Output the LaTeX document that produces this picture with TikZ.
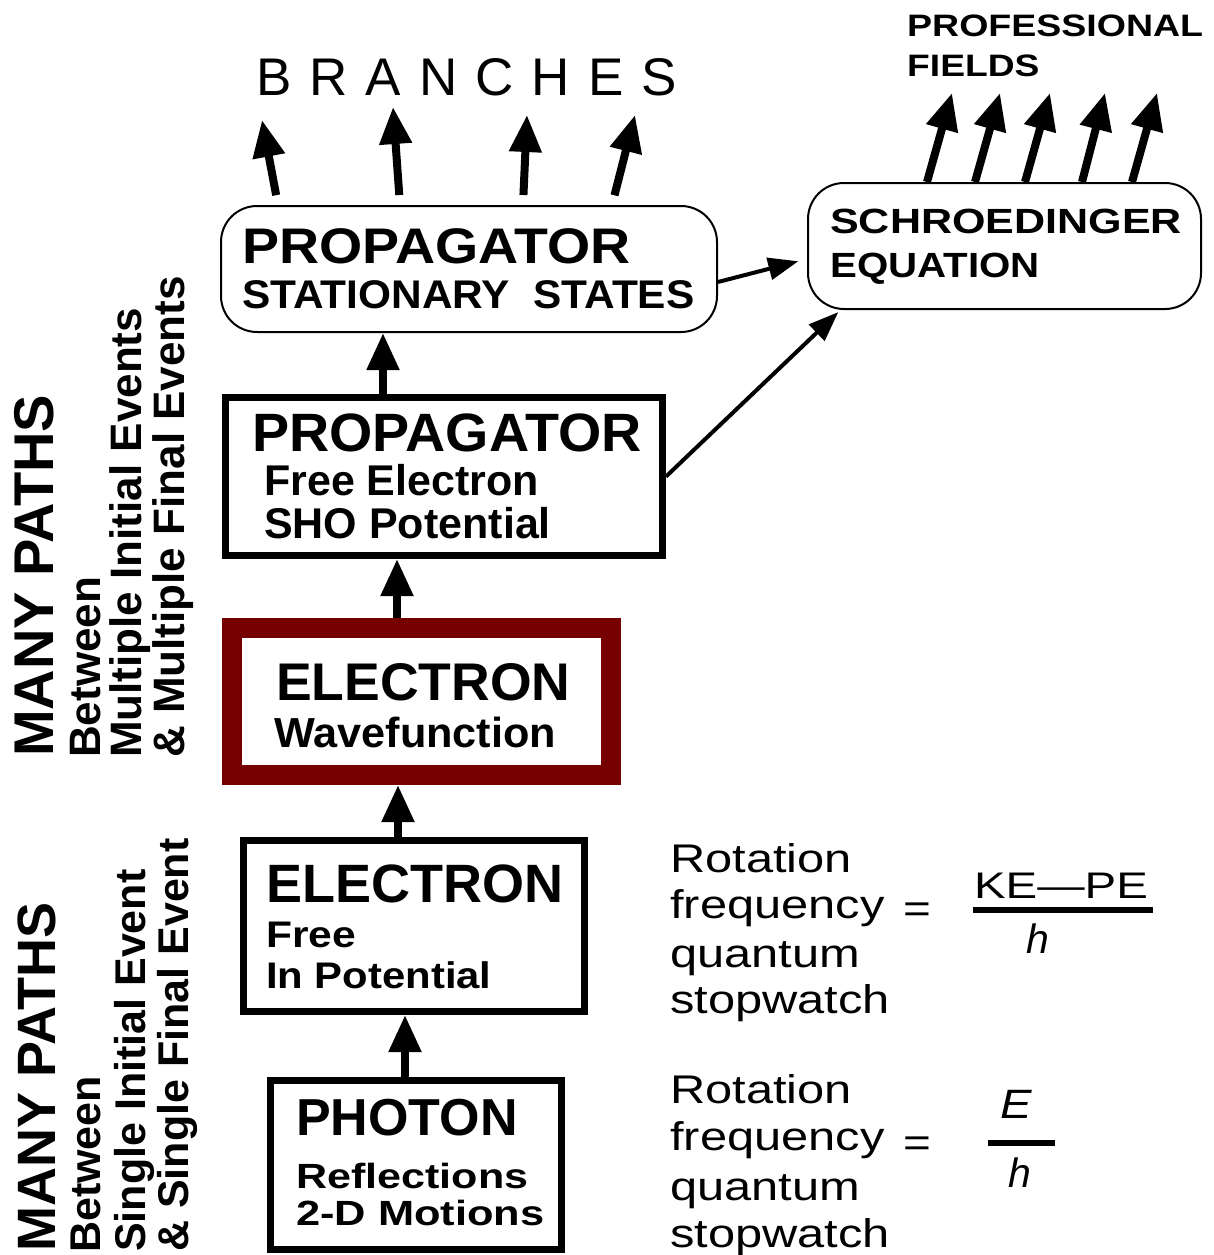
\documentclass[tikz,border=0pt]{standalone}
\usepackage{fontspec}
\usepackage{graphicx}
\setmainfont{Liberation Sans}
\newfontfamily\spacedfont[LetterSpace=34]{Liberation Sans}
\usepackage{tikz}
\usetikzlibrary{arrows.meta}

\definecolor{wavered}{RGB}{118,0,0}
\newcommand{\fs}[1]{\fontsize{#1}{#1}\selectfont}
\newcommand{\wide}[2]{\scalebox{#1}[1]{#2}}

\begin{document}
\begin{tikzpicture}[
			x=1pt, y=-1pt,
			roundbox/.style={draw, rounded corners=36pt, line width=2pt, inner sep=0pt},
			thickbox/.style={draw, line width=7pt, inner sep=0pt},
			redbox/.style={draw=wavered, line width=20pt, inner sep=0pt},
			txt/.style={anchor=base west, inner sep=0pt},
			sidetxt/.style={rotate=90, anchor=base west, inner sep=0pt},
			bigarrow/.style={-{Triangle[length=37pt,width=31pt]}, line width=8pt},
			thinarrow/.style={-{Triangle[length=30pt,width=22pt]}, line width=4pt},
			]
			\useasboundingbox (0,0) rectangle (1214,1255);

			%Boxes
			\node[roundbox, minimum width=496pt, minimum height=126pt] (statbox) at (469,269) {};
			\node[roundbox, minimum width=393pt, minimum height=126pt] (schbox) at (1004.5,246) {};
			\node[thickbox, minimum width=437pt, minimum height=158pt] (propbox) at (444,476.5) {};
			\node[redbox, minimum width=379pt, minimum height=147pt] (wavebox) at (421.5,701.5) {};
			\node[thickbox, minimum width=341pt, minimum height=171pt] (elecbox) at (414,926) {};
			\node[thickbox, minimum width=291pt, minimum height=169pt] (photbox) at (416,1165) {};

			%Box texts
			\node[txt, font=\bfseries\fs{50}] (stat1) at (242,263) {\wide{1.11}{PROPAGATOR}};
			\node[txt, font=\bfseries\fs{40}] (stat2) at (242,308) {\wide{1.06}{STATIONARY~~STATES}};
			\node[txt, font=\bfseries\fs{35}] (sch1) at (830,233) {\wide{1.23}{SCHROEDINGER}};
			\node[txt, font=\bfseries\fs{35}] (sch2) at (830,277) {\wide{1.15}{EQUATION}};
			\node[txt, font=\bfseries\fs{54}] (prop1) at (252,451) {\wide{1.03}{PROPAGATOR}};
			\node[txt, font=\bfseries\fs{43}] (prop2) at (264,495) {Free Electron};
			\node[txt, font=\bfseries\fs{43}] (prop3) at (264,538) {SHO Potential};
			\node[txt, font=\bfseries\fs{53}] (wave1) at (276,700) {\wide{1.01}{ELECTRON}};
			\node[txt, font=\bfseries\fs{42}] (wave2) at (274,747) {\wide{1.03}{Wavefunction}};
			\node[txt, font=\bfseries\fs{54}] (elec1) at (266,902) {ELECTRON};
			\node[txt, font=\bfseries\fs{37}] (elec2) at (266,947) {\wide{1.15}{Free}};
			\node[txt, font=\bfseries\fs{37}] (elec3) at (266,988) {\wide{1.13}{In Potential}};
			\node[txt, font=\bfseries\fs{52}] (phot1) at (296,1135) {PHOTON};
			\node[txt, font=\bfseries\fs{35}] (phot2) at (296,1188) {\wide{1.23}{Reflections}};
			\node[txt, font=\bfseries\fs{35}] (phot3) at (296,1225) {\wide{1.24}{2-D Motions}};

			%Top labels
			\node[txt, font=\spacedfont\fs{53}] (branches) at (256,95) {BRANCHES};
			\node[txt, font=\bfseries\fs{31}] (prof1) at (907,37) {\wide{1.21}{PROFESSIONAL}};
			\node[txt, font=\bfseries\fs{31}] (prof2) at (907,76) {\wide{1.2}{FIELDS}};

			%Side labels
			\node[sidetxt, font=\bfseries\fs{56}] (many1) at (53,757) {MANY PATHS};
			\node[sidetxt, font=\bfseries\fs{44}] (btw1) at (100,758) {Between};
			\node[sidetxt, font=\bfseries\fs{44}] (mult1) at (141,758) {Multiple Initial Events};
			\node[sidetxt, font=\bfseries\fs{44}] (mult2) at (184,758) {\& Multiple Final Events};
			\node[sidetxt, font=\bfseries\fs{54}] (many2) at (55,1252) {MANY PATHS};
			\node[sidetxt, font=\bfseries\fs{43}] (btw2) at (100,1253) {Between};
			\node[sidetxt, font=\bfseries\fs{43}] (sing1) at (145,1252) {Single Initial Event};
			\node[sidetxt, font=\bfseries\fs{43}] (sing2) at (188,1252) {\& Single Final Event};

			%Rotation frequency
			\node[txt, font=\fs{40}] (rotA1) at (670,872) {\wide{1.22}{Rotation}};
			\node[txt, font=\fs{40}] (rotA2) at (670,918) {\wide{1.22}{frequency}};
			\node[txt, font=\fs{40}] (rotA3) at (670,967) {\wide{1.22}{quantum}};
			\node[txt, font=\fs{40}] (rotA4) at (670,1013) {\wide{1.22}{stopwatch}};
			\node[anchor=base, inner sep=0pt, font=\fs{40}] (eqA) at (917,922) {\wide{1.19}{=}};
			\node[anchor=base, inner sep=0pt, font=\fs{37}] (numA) at (1061,898) {\wide{1.28}{KE—PE}};
			\node[anchor=base, inner sep=0pt, font=\itshape\fs{41}] (denA) at (1038,953) {h};
			\draw[line width=6pt] (973,910) -- (1153,910);

			\node[txt, font=\fs{40}] (rotB1) at (670,1103) {\wide{1.22}{Rotation}};
			\node[txt, font=\fs{40}] (rotB2) at (670,1150) {\wide{1.22}{frequency}};
			\node[txt, font=\fs{40}] (rotB3) at (670,1200) {\wide{1.22}{quantum}};
			\node[txt, font=\fs{40}] (rotB4) at (670,1247) {\wide{1.22}{stopwatch}};
			\node[anchor=base, inner sep=0pt, font=\fs{40}] (eqB) at (917,1156) {\wide{1.19}{=}};
			\node[anchor=base, inner sep=0pt, font=\itshape\fs{41}] (numB) at (1016,1118) {\wide{1.15}{E}};
			\node[anchor=base, inner sep=0pt, font=\itshape\fs{41}] (denB) at (1020,1187) {h};
			\draw[line width=6pt] (988,1143) -- (1055,1143);

			%Arrows
			\draw[bigarrow] ([xshift=-11pt]photbox.north) -- ([xshift=-9pt]elecbox.south);
			\draw[bigarrow] ([xshift=-16pt]elecbox.north) -- ([xshift=-23.5pt]wavebox.south);
			\draw[bigarrow] ([xshift=-24.5pt]wavebox.north) -- ([xshift=-47pt]propbox.south);
			\draw[bigarrow] ([xshift=-61pt]propbox.north) -- ([xshift=-86pt]statbox.south);
			\draw[thinarrow, shorten >=9pt] ([yshift=-13pt]statbox.east) -- ([yshift=-13pt]schbox.west);
			\draw[thinarrow, shorten >=3pt] (propbox.east) -- ([xshift=-164pt]schbox.south);

			\coordinate (br1) at (262,120);
			\coordinate (br2) at (393,107);
			\coordinate (br3) at (527,115);
			\coordinate (br4) at (635,115);
			\draw[bigarrow, shorten <=10pt] ([xshift=-191pt]statbox.north) -- (br1);
			\draw[bigarrow, shorten <=10pt] ([xshift=-69pt]statbox.north) -- (br2);
			\draw[bigarrow, shorten <=10pt] ([xshift=54pt]statbox.north) -- (br3);
			\draw[bigarrow, shorten <=10pt] ([xshift=143pt]statbox.north) -- (br4);

			\coordinate (pf1) at (952,93);
			\coordinate (pf2) at (1000,93);
			\coordinate (pf3) at (1050,93);
			\coordinate (pf4) at (1105,93);
			\coordinate (pf5) at (1157,93);
			\draw[bigarrow] ([xshift=-77.5pt]schbox.north) -- (pf1);
			\draw[bigarrow] ([xshift=-29.5pt]schbox.north) -- (pf2);
			\draw[bigarrow] ([xshift=20.5pt]schbox.north) -- (pf3);
			\draw[bigarrow] ([xshift=77.5pt]schbox.north) -- (pf4);
			\draw[bigarrow] ([xshift=127.5pt]schbox.north) -- (pf5);
		\end{tikzpicture}
\end{document}
